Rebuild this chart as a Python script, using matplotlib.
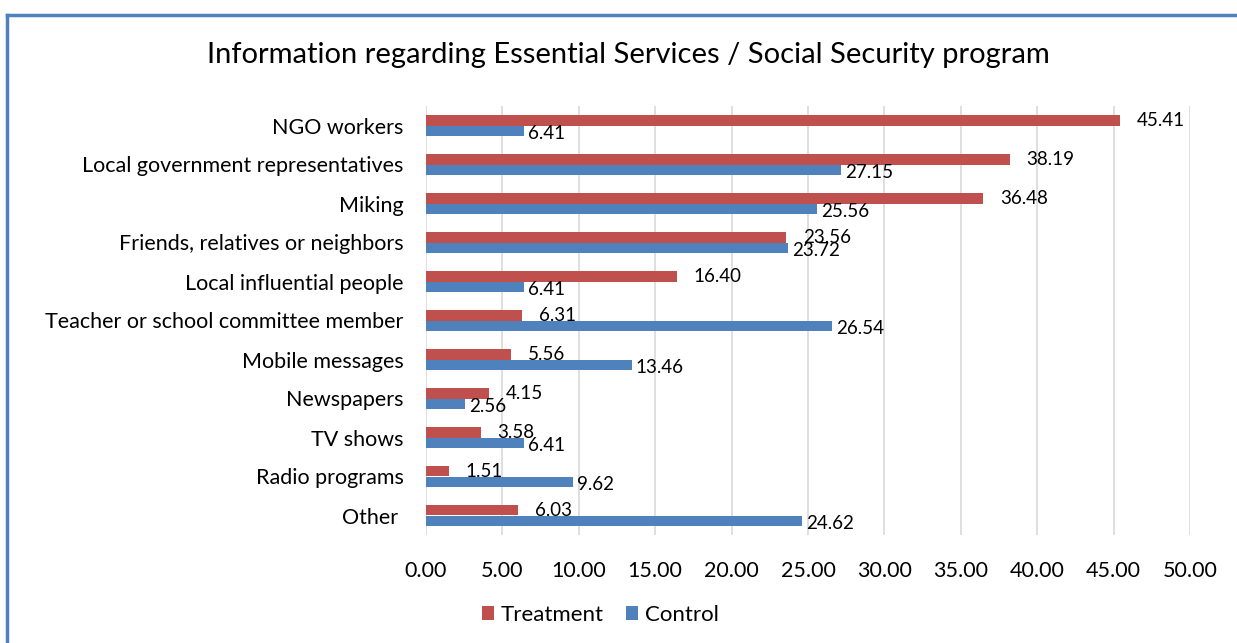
import numpy as np
import matplotlib.pyplot as plt
from matplotlib.lines import Line2D

plt.rcParams['font.family'] = ['Lato', 'DejaVu Sans']

categories = [
    "NGO workers",
    "Local government representatives",
    "Miking",
    "Friends, relatives or neighbors",
    "Local influential people",
    "Teacher or school committee member",
    "Mobile messages",
    "Newspapers",
    "TV shows",
    "Radio programs",
    "Other ",
]
treatment = [45.41, 38.19, 36.48, 23.56, 16.40, 6.31, 5.56, 4.15, 3.58, 1.51, 6.03]
control = [6.41, 27.15, 25.56, 23.72, 6.41, 26.54, 13.46, 2.56, 6.41, 9.62, 24.62]

red = '#C0504D'
blue = '#4F81BD'

fig = plt.figure(figsize=(12.37, 6.43), dpi=100)
ax = fig.add_axes([426 / 1237, 1 - 535 / 643, (1190 - 426) / 1237, (535 - 106) / 643])

y = np.arange(len(categories))
h = 0.28
bars_t = ax.barh(y - h / 2, treatment, height=h, color=red, label='Treatment', zorder=3)
bars_c = ax.barh(y + h / 2, control, height=h, color=blue, label='Control', zorder=3)

for b, v in zip(bars_t, treatment):
    ax.annotate(f"{v:.2f}", (v, b.get_y() + b.get_height() / 2), xytext=(12, 0),
                textcoords='offset points', ha='left', va='center', fontsize=13.5)
for b, v in zip(bars_c, control):
    ax.annotate(f"{v:.2f}", (v, b.get_y() + b.get_height() / 2), xytext=(3, -1.5),
                textcoords='offset points', ha='left', va='center', fontsize=13.5)

ax.set_ylim(len(categories) - 0.5, -0.5)
ax.set_xlim(0, 50)
ax.set_xticks(np.arange(0, 51, 5))
ax.set_xticklabels([f"{t:.2f}" for t in np.arange(0, 51, 5)])
ax.set_yticks(y)
ax.set_yticklabels(categories)
ax.tick_params(axis='both', length=0, labelsize=15.5)
ax.tick_params(axis='x', pad=19)
ax.tick_params(axis='y', pad=16)
ax.grid(axis='x', color='#D9D9D9', linewidth=1.2, zorder=0)
for s in ax.spines.values():
    s.set_visible(False)

fig.text(628 / 1237, 1 - 55 / 643, "Information regarding Essential Services / Social Security program",
         ha='center', va='center', fontsize=21)

fig.legend(handles=[bars_t, bars_c], labels=['Treatment', 'Control'], loc='center',
           bbox_to_anchor=(600 / 1237, 1 - 615 / 643), ncol=2, frameon=False, fontsize=16,
           handlelength=0.55, handleheight=0.55, handletextpad=0.3, columnspacing=1.0)

# outer frame of the chart area
fig.add_artist(Line2D([7 / 1237, 7 / 1237], [0, 1 - 15 / 643], color=blue, linewidth=2.5,
                      transform=fig.transFigure))
fig.add_artist(Line2D([7 / 1237, 1], [1 - 15 / 643, 1 - 15 / 643], color=blue, linewidth=2.5,
                      transform=fig.transFigure))

fig.savefig("out.png", dpi=100)
